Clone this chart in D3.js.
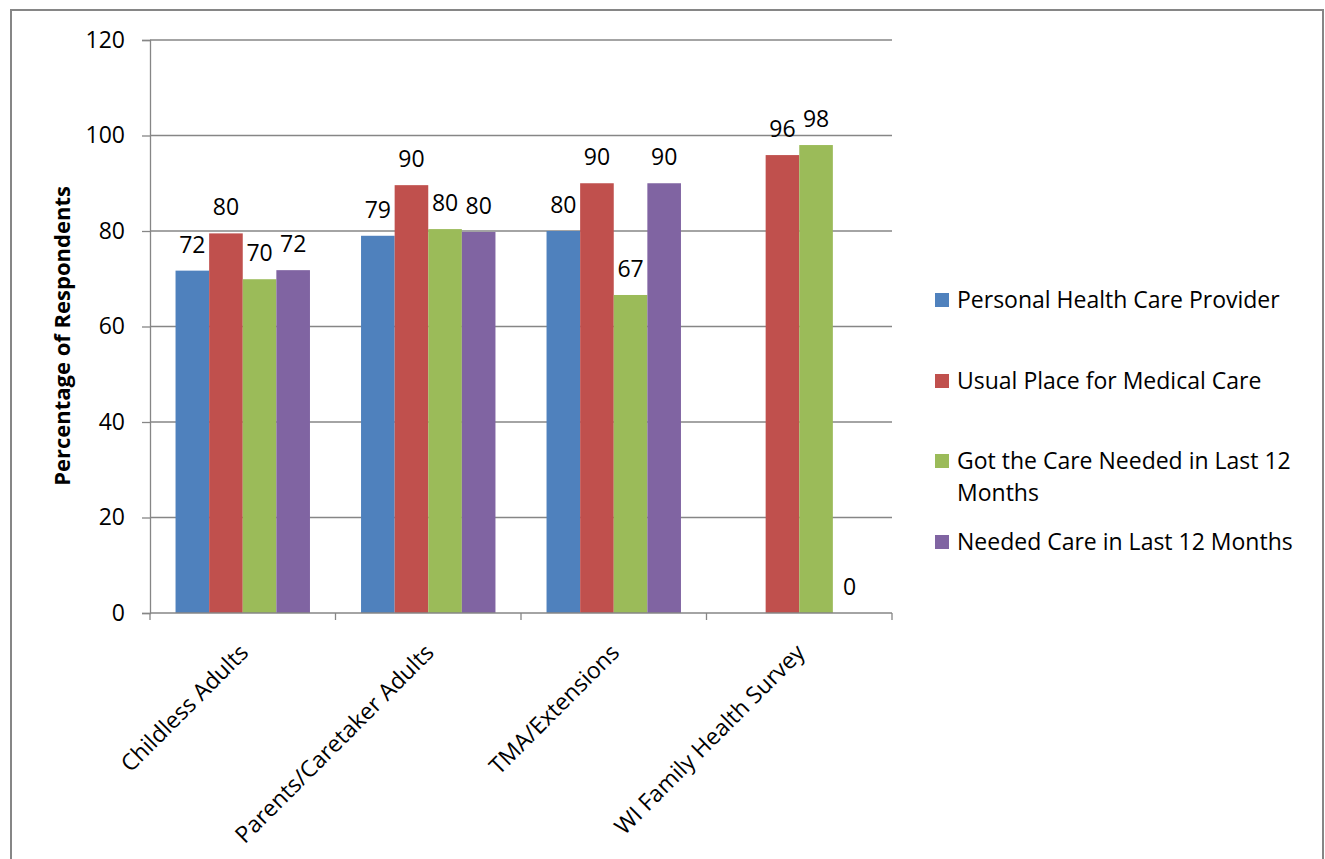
<html>
<meta charset="utf-8">
<script src="https://d3js.org/d3.v7.min.js"></script>
<style>
  body { margin: 0; background: #fff; }
  text { font-family: "Open Sans", sans-serif; fill: #000; }
</style>
<div id="chart"></div>
<script>
// data
let categories = ["Childless Adults", "Parents/Caretaker Adults", "TMA/Extensions", "WI Family Health Survey"]
let seriesNames = ["Personal Health Care Provider", "Usual Place for Medical Care",
                   "Got the Care Needed in Last 12 Months", "Needed Care in Last 12 Months"]
let personalProvider = [71.7, 79.0, 80.0, null]
let usualPlace = [79.5, 89.6, 90.0, 95.9]
let gotCare = [69.9, 80.4, 66.6, 98.0]
let neededCare = [71.8, 79.8, 90.0, 0]
let yTicks = [0, 20, 40, 60, 80, 100, 120]
let colors = ["#4F81BD", "#C0504D", "#9BBB59", "#8064A2"]

let allSeries = [personalProvider, usualPlace, gotCare, neededCare]

let width = 1325,
    height = 859

let svg = d3.select("#chart")
  .append("svg")
    .attr("width", width)
    .attr("height", height)

// outer chart frame
svg.append("rect")
  .attr("x", 11).attr("y", 10)
  .attr("width", 1312).attr("height", 900)
  .attr("fill", "none")
  .attr("stroke", "#868686")
  .attr("stroke-width", 2)

let x0 = d3.scaleBand()
  .domain(categories)
  .range([150, 892])

let x1 = d3.scaleBand()
  .domain(d3.range(seriesNames.length))
  .range([0, x0.bandwidth()])
  .paddingOuter(0.76)

let y = d3.scaleLinear()
  .domain([0, 120])
  .range([613, 40])

// gridlines
svg.append("g")
  .selectAll("line")
  .data(yTicks.filter(d => d > 0))
  .enter()
  .append("line")
    .attr("x1", 150).attr("x2", 892)
    .attr("y1", d => y(d)).attr("y2", d => y(d))
    .attr("stroke", "#868686")
    .attr("stroke-width", 1.3)

// y axis
let yAxis = svg.append("g")
  .attr("transform", "translate(150,0)")
  .call(d3.axisLeft(y).tickValues(yTicks).tickSize(8).tickPadding(17))
yAxis.select(".domain").attr("stroke", "#868686").attr("stroke-width", 1.3)
yAxis.selectAll(".tick line").attr("stroke", "#868686").attr("stroke-width", 1.3)
yAxis.selectAll("text").attr("font-size", "23px").attr("fill", "#000")
  .style("font-family", "'Open Sans', sans-serif")

// bars
let rows = []
categories.forEach(function(c, i) {
  allSeries.forEach(function(s, j) {
    if (s[i] !== null) rows.push({cat: c, series: j, value: s[i]})
  })
})

let groups = svg.append("g")
groups.selectAll("rect")
  .data(rows)
  .enter()
  .append("rect")
    .attr("x", d => x0(d.cat) + x1(d.series))
    .attr("width", x1.bandwidth())
    .attr("y", d => y(d.value))
    .attr("height", d => y(0) - y(d.value))
    .attr("fill", d => colors[d.series])

// value labels
let fmt = d3.format(".0f")
groups.selectAll("text")
  .data(rows)
  .enter()
  .append("text")
    .attr("x", d => x0(d.cat) + x1(d.series) + x1.bandwidth() / 2)
    .attr("y", d => y(d.value) - 18)
    .attr("text-anchor", "middle")
    .attr("font-size", "23px")
    .text(d => fmt(d.value))

// x axis
let xAxis = svg.append("g")
  .attr("transform", "translate(0,613)")
xAxis.append("line")
  .attr("x1", 150).attr("x2", 892)
  .attr("stroke", "#868686").attr("stroke-width", 1.3)
xAxis.selectAll(".xtick")
  .data(categories.map(c => x0(c)).concat([892]))
  .enter()
  .append("line")
    .attr("x1", d => d).attr("x2", d => d)
    .attr("y1", 0).attr("y2", 7)
    .attr("stroke", "#868686").attr("stroke-width", 1.3)
xAxis.selectAll("text")
  .data(categories)
  .enter()
  .append("text")
    .attr("transform", d => "translate(" + (x0(d) + x0.bandwidth() / 2 + 7) + ",41) rotate(-45)")
    .attr("text-anchor", "end")
    .attr("font-size", "23px")
    .text(d => d)

// y axis title
svg.append("text")
  .attr("transform", "translate(70,336) rotate(-90)")
  .attr("text-anchor", "middle")
  .attr("font-size", "22px")
  .attr("font-weight", "bold")
  .text("Percentage of Respondents")

// legend
let legendY = [300, 381, 461, 542]
let legend = svg.append("g")
let items = legend.selectAll("g")
  .data(seriesNames)
  .enter()
  .append("g")
    .attr("transform", (d, i) => "translate(935," + legendY[i] + ")")
items.append("rect")
  .attr("x", 0).attr("y", -7)
  .attr("width", 14).attr("height", 14)
  .attr("fill", (d, i) => colors[i])
items.append("text")
  .attr("x", 22)
  .attr("y", 8)
  .attr("font-size", "23px")
  .each(function(d) {
    // wrap long names like Excel does
    let el = d3.select(this)
    let words = d.split(" ")
    let line = []
    let tspan = el.append("tspan").attr("x", 22)
    words.forEach(function(w) {
      line.push(w)
      tspan.text(line.join(" "))
      if (tspan.node().getComputedTextLength() > 355 && line.length > 1) {
        line.pop()
        tspan.text(line.join(" "))
        line = [w]
        tspan = el.append("tspan").attr("x", 22).attr("dy", 32).text(w)
      }
    })
  })
</script>
</html>
